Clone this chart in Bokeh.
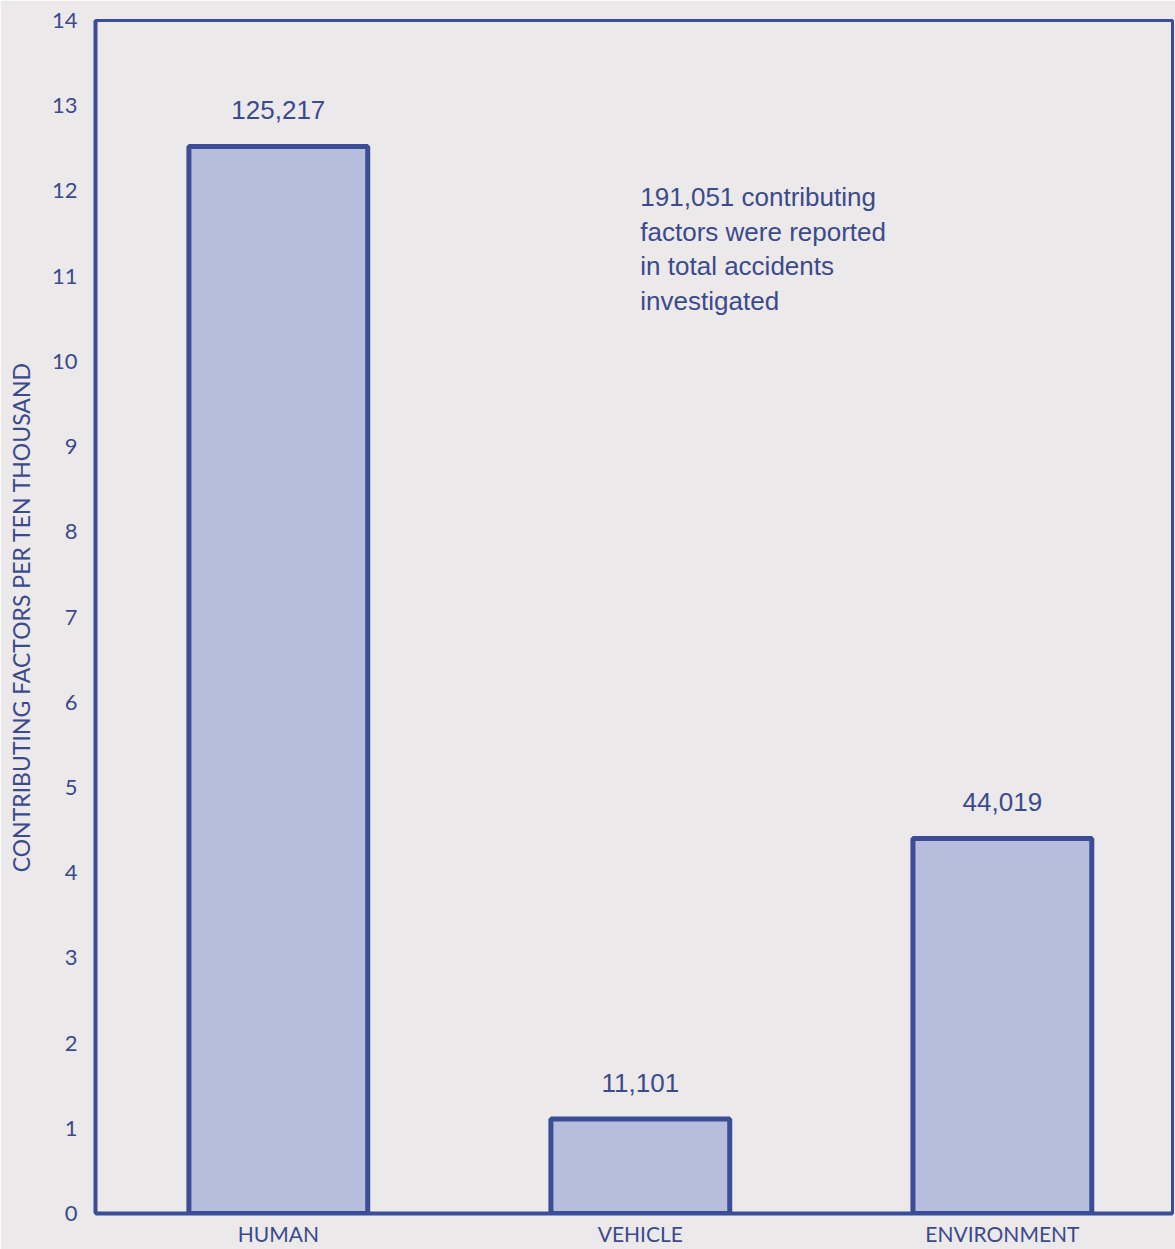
from bokeh.plotting import figure
from bokeh.models import ColumnDataSource, Range1d, FixedTicker, Label
from bokeh.core.properties import value
from bokeh.embed import file_html
from bokeh.resources import INLINE

# Contributing factors reported in accidents investigated
categories = ["HUMAN", "VEHICLE", "ENVIRONMENT"]
factor_counts = [125217, 11101, 44019]
count_labels = ["125,217", "11,101", "44,019"]
y_ticks = list(range(0, 15))
total_note = "191,051 contributing\nfactors were reported\nin total accidents\ninvestigated"

INK = "#3b4d97"
TEXT_INK = "#3c4a8c"
BAR_FILL = "#b6bddd"
PAPER = "#ebe9ea"

positions = [i + 1 for i in range(len(categories))]
heights = [c / 10000 for c in factor_counts]

src = ColumnDataSource(dict(x=positions, top=heights, label=count_labels))

p = figure(
    width=1175, height=1249,
    x_range=Range1d(0.495, 3.47), y_range=Range1d(0, 14),
    output_backend="svg", toolbar_location=None,
    min_border_left=95, min_border_right=3, min_border_top=20, min_border_bottom=36,
    background_fill_color=PAPER, border_fill_color=PAPER,
)
p.grid.visible = False
p.outline_line_color = INK
p.outline_line_width = 3

p.vbar(x="x", top="top", width=0.494, bottom=0, source=src,
       fill_color=BAR_FILL, line_color=INK, line_width=5)

p.text(x="x", y="top", text="label", source=src, y_offset=-27,
       text_align="center", text_baseline="bottom",
       text_font=value("Liberation Sans"), text_font_size="26px", text_color=TEXT_INK)

p.add_layout(Label(x=2.0, y=12.1, text=total_note, text_align="left", text_baseline="top",
                   text_font="Liberation Sans", text_font_size="26px", text_color=TEXT_INK,
                   text_line_height=1.15))

ya = p.yaxis[0]
ya.ticker = FixedTicker(ticks=y_ticks)
ya.axis_line_color = INK
ya.axis_line_width = 4
ya.major_tick_line_color = None
ya.minor_tick_line_color = None
ya.major_tick_out = 0
ya.major_tick_in = 0
ya.major_label_standoff = 18
ya.major_label_text_font = "Lato"
ya.major_label_text_font_size = "22px"
ya.major_label_text_color = TEXT_INK
ya.axis_label = "CONTRIBUTING FACTORS PER TEN THOUSAND"
ya.axis_label_text_font = "Lato"
ya.axis_label_text_font_style = "normal"
ya.axis_label_text_font_size = "23px"
ya.axis_label_text_color = TEXT_INK
ya.axis_label_standoff = 14

xa = p.xaxis[0]
xa.ticker = FixedTicker(ticks=positions)
xa.major_label_overrides = {pos: name for pos, name in zip(positions, categories)}
xa.axis_line_color = INK
xa.axis_line_width = 4
xa.major_tick_line_color = None
xa.minor_tick_line_color = None
xa.major_tick_out = 0
xa.major_tick_in = 0
xa.major_label_standoff = 7
xa.major_label_text_font = "Lato"
xa.major_label_text_font_size = "21px"
xa.major_label_text_color = TEXT_INK

open("out.html", "w").write(file_html(p, INLINE))
